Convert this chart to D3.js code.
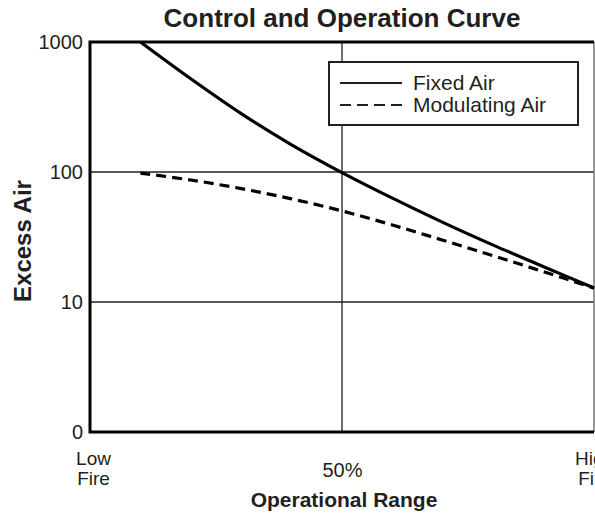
<!DOCTYPE html>
<html><head><meta charset="utf-8">
<script src="https://cdn.jsdelivr.net/npm/d3@7"></script>
<style>html,body{margin:0;padding:0;background:#fff;}svg{display:block;font-family:"Liberation Sans",Arial,sans-serif;}</style>
</head><body>
<svg id="chart" width="595" height="517"></svg>
<script>
// Data
const rangePct = [10, 20, 30, 40, 50, 60, 70, 80, 90, 100];
const fixedAir = [1000, 521, 281, 162, 99, 62.9, 41.0, 27.4, 18.7, 12.8];
const modulatingAir = [98, 86.8, 74.5, 62.1, 50.2, 39.1, 29.9, 22.7, 17.1, 12.8];
const yTickValues = [1, 10, 100, 1000];
const yTickLabels = ["0", "10", "100", "1000"];
const xTickValues = [0, 50, 100];
const xTickLabels = [["Low", "Fire"], ["50%"], ["High", "Fire"]];
const seriesNames = ["Fixed Air", "Modulating Air"];
const title = "Control and Operation Curve";
const xTitle = "Operational Range";
const yTitle = "Excess Air";

const svg = d3.select("#chart");
const ink = "#231f20";
const font = '"Liberation Sans",Arial,sans-serif';
const L = 90, R = 594, T = 42, B = 432;
const x = d3.scaleLinear().domain([0, 100]).range([L, R]);
const y = d3.scaleLog().domain([1, 1000]).range([B, T]);

// grid
svg.append("g").selectAll("line").data([10, 100]).join("line")
  .attr("x1", L).attr("x2", R).attr("y1", d => y(d)).attr("y2", d => y(d))
  .attr("stroke", ink).attr("stroke-width", 1.3);
svg.append("line").attr("x1", x(50)).attr("x2", x(50)).attr("y1", T).attr("y2", B)
  .attr("stroke", ink).attr("stroke-width", 1.3);
// right frame (thin)
svg.append("line").attr("x1", R).attr("x2", R).attr("y1", T).attr("y2", B)
  .attr("stroke", "#777").attr("stroke-width", 1.5);

// Y axis
const yAxis = d3.axisLeft(y).tickValues(yTickValues)
  .tickFormat((d, i) => yTickLabels[i]).tickSize(0).tickPadding(7);
const gy = svg.append("g").attr("transform", `translate(${L},0)`).call(yAxis);
gy.select(".domain").remove();
gy.selectAll("text").attr("font-size", 20).attr("fill", ink).attr("font-family", font);

// X axis
const xAxis = d3.axisBottom(x).tickValues(xTickValues).tickFormat("").tickSize(0);
const gx = svg.append("g").attr("transform", `translate(0,${B})`).call(xAxis);
gx.select(".domain").remove();
gx.selectAll(".tick").each(function(d, i) {
  const lines = xTickLabels[i];
  const dx = i === 0 ? 3 : 0;
  if (lines.length === 1) {
    d3.select(this).append("text").attr("fill", ink).attr("font-size", 20)
      .attr("text-anchor", "middle").attr("font-family", font)
      .attr("x", dx).attr("y", 45).text(lines[0]);
  } else {
    lines.forEach((s, j) => d3.select(this).append("text").attr("fill", ink)
      .attr("font-size", 19).attr("text-anchor", "middle").attr("font-family", font)
      .attr("x", dx).attr("y", 33 + j * 20).text(s));
  }
});

// thick frame: top, left, bottom
svg.append("path").attr("d", `M${R},${T}H${L}V${B}H${R}`)
  .attr("fill", "none").attr("stroke", "#000").attr("stroke-width", 3);

// lines
const line = d3.line().x(d => x(d[0])).y(d => y(d[1])).curve(d3.curveCatmullRom.alpha(0.5));
const fixedData = rangePct.map((v, i) => [v, fixedAir[i]]);
const modData = rangePct.map((v, i) => [v, modulatingAir[i]]);
svg.append("path").attr("d", line(modData)).attr("fill", "none")
  .attr("stroke", "#000").attr("stroke-width", 3.2).attr("stroke-dasharray", "10,6");
svg.append("path").attr("d", line(fixedData)).attr("fill", "none")
  .attr("stroke", "#000").attr("stroke-width", 3.2);

// legend
const lg = svg.append("g");
lg.append("rect").attr("x", 329).attr("y", 62).attr("width", 249).attr("height", 63)
  .attr("fill", "#fff").attr("stroke", ink).attr("stroke-width", 2);
[0, 1].forEach(i => {
  const yy = 83 + i * 22;
  lg.append("line").attr("x1", 340).attr("x2", 402).attr("y1", yy).attr("y2", yy)
    .attr("stroke", ink).attr("stroke-width", 2.2)
    .attr("stroke-dasharray", i === 1 ? "11,6" : null);
  lg.append("text").attr("x", 413).attr("y", yy).attr("dy", "0.35em")
    .attr("font-size", 21).attr("fill", ink).text(seriesNames[i]);
});

// titles
svg.append("text").attr("x", 342).attr("y", 27).attr("text-anchor", "middle")
  .attr("font-size", 26).attr("font-weight", "bold").attr("fill", ink).text(title);
svg.append("text").attr("x", 344).attr("y", 507).attr("text-anchor", "middle")
  .attr("font-size", 21).attr("font-weight", "bold").attr("fill", ink).text(xTitle);
svg.append("text").attr("transform", `translate(31,241) rotate(-90)`)
  .attr("text-anchor", "middle")
  .attr("font-size", 24).attr("font-weight", "bold").attr("fill", ink).text(yTitle);
</script>
</body></html>
